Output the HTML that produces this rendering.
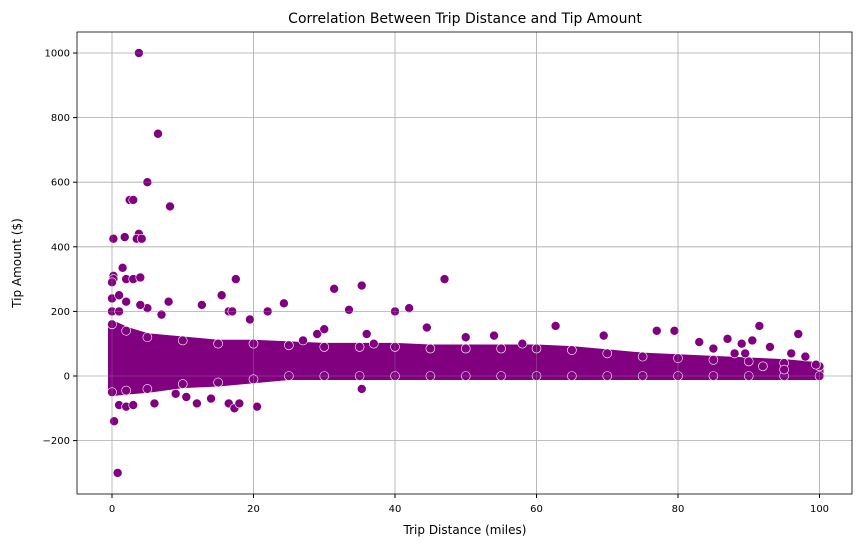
<!DOCTYPE html>
<html><head><meta charset="utf-8"><style>
body{margin:0;background:#fff;}
svg text{font-family:"DejaVu Sans","Liberation Sans",sans-serif;fill:#000;}
</style></head><body>
<svg id="chart" width="862" height="547" xmlns="http://www.w3.org/2000/svg">
<rect x="0" y="0" width="862" height="547" fill="#fff"/>
<g id="grid"></g>
<g id="band"></g>
<g id="pts"></g>
<g id="grid2" opacity="0.35"></g>
<rect x="77" y="32" width="775" height="462" fill="none" stroke="#000" stroke-width="0.8"/>
<g id="axes"></g>
<text x="465" y="23" font-size="14" text-anchor="middle">Correlation Between Trip Distance and Tip Amount</text>
<text x="465" y="534" font-size="12" text-anchor="middle">Trip Distance (miles)</text>
<text x="0" y="0" font-size="12" text-anchor="middle" transform="translate(21,263) rotate(-90)">Tip Amount ($)</text>
</svg>
<script>
const xTicks=[0,20,40,60,80,100];
const yTicks=[-200,0,200,400,600,800,1000];
const bandX=[0,2,5,10,15,20,25,30,35,40,45,50,55,60,65,70,75,80,85,90,95,100];
const bandUpper=[160,140,120,110,100,100,95,90,90,90,85,85,85,85,80,70,60,55,50,45,40,30];
const bandLower=[-50,-45,-40,-25,-20,-10,0,0,0,0,0,0,0,0,0,0,0,0,0,0,0,0];
const outX=[3.8,6.5,5,2.5,3,8.2,3.8,3.5,4.2,0.2,1.8,0.2,0.2,1.5,2,3,4,8,17.5,47,35.3,31.4,33.5,42,40,24.3,22,15.5,12.7,19.5,16.5,17,0.3,0.8,1,2,3,6,9,10.5,12,14,16.5,17.3,18,20.5,35.3,62.7,44.5,91.5,97,77,79.5,69.5,83,87,89,90.5,96,98,99.5,93,85,88,89.5,92,95,27,29,30,36,58,54,37,50,0,0,0,1,2,5,7,1,4];
const outY=[1000,750,600,545,545,525,440,425,425,425,430,310,300,335,300,300,305,230,300,300,280,270,205,210,200,225,200,250,220,175,200,200,-140,-300,-90,-95,-90,-85,-55,-65,-85,-70,-85,-100,-85,-95,-40,155,150,155,130,140,140,125,105,115,100,110,70,60,35,90,85,70,70,30,20,110,130,145,130,100,125,100,120,290,240,200,250,230,210,190,200,220];
const X0=112,XS=7.075,Y0=376,YS=0.323;
const sx=v=>X0+v*XS, sy=v=>Y0-v*YS;
const NS="http://www.w3.org/2000/svg";
const grid=document.getElementById('grid'),grid2=document.getElementById('grid2'),axes=document.getElementById('axes');
function mk(tag,attrs,parent){const e=document.createElementNS(NS,tag);for(const k in attrs)e.setAttribute(k,attrs[k]);parent.appendChild(e);return e;}
xTicks.forEach(t=>{
 [grid,grid2].forEach(g=>{
 const gl=mk('line',{x1:sx(t),x2:sx(t),y1:32,y2:494,stroke:'#b0b0b0','stroke-width':0.8},g);
 
 
 });
 mk('line',{x1:sx(t),x2:sx(t),y1:494,y2:498,stroke:'#000'},axes);
 const tx=mk('text',{x:sx(t),y:512,'font-size':10,'text-anchor':'middle'},axes);tx.textContent=t;
 
 
});
yTicks.forEach(t=>{
 [grid,grid2].forEach(g=>{
 const gl=mk('line',{x1:77,x2:852,y1:sy(t),y2:sy(t),stroke:'#b0b0b0','stroke-width':0.8},g);
 
 
 });
 mk('line',{x1:73,x2:77,y1:sy(t),y2:sy(t),stroke:'#000'},axes);
 const tx=mk('text',{x:70,y:sy(t)+3.5,'font-size':10,'text-anchor':'end'},axes);tx.textContent=(t<0?'\u2212'+(-t):t);
 
 
});
let d='';
bandX.forEach((x,i)=>{d+=(i?'L':'M')+sx(x)+','+sy(bandUpper[i]);});
for(let i=bandX.length-1;i>=0;i--)d+='L'+sx(bandX[i])+','+sy(bandLower[i]);
const band=document.getElementById('band');
const bp=mk('path',{d:d+'Z',fill:'#800080',stroke:'#800080','stroke-width':8,'stroke-linejoin':'round'},band);


const pts=document.getElementById('pts');
bandX.forEach((x,i)=>{
 [bandUpper[i],bandLower[i]].forEach(v=>{
  const c=mk('circle',{cx:sx(x),cy:sy(v),r:4.5,fill:'#800080',stroke:'#fff','stroke-width':0.6},pts);
  
  
 });
});
outX.forEach((x,i)=>{
 const c=mk('circle',{cx:sx(x),cy:sy(outY[i]),r:4.5,fill:'#800080',stroke:'#fff','stroke-width':0.6},pts);
 
 
});
</script>
</body></html>
